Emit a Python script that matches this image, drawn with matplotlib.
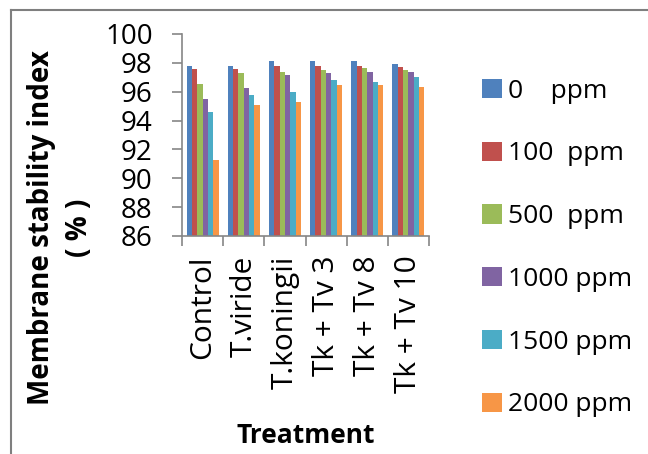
import numpy as np
import matplotlib
matplotlib.use("Agg")
import matplotlib.pyplot as plt
from matplotlib.lines import Line2D

plt.rcParams["font.family"] = ["Open Sans", "DejaVu Sans"]

TREATMENTS = ["Control", "T.viride", "T.koningii", "Tk + Tv 3", "Tk + Tv 8", "Tk + Tv 10"]
DOSES = ["0    ppm", "100  ppm", "500  ppm", "1000 ppm", "1500 ppm", "2000 ppm"]
MSI_0 = [97.75, 97.75, 98.1, 98.1, 98.1, 97.95]
MSI_100 = [97.6, 97.6, 97.75, 97.75, 97.75, 97.72]
MSI_500 = [96.5, 97.3, 97.4, 97.5, 97.65, 97.5]
MSI_1000 = [95.5, 96.25, 97.15, 97.3, 97.4, 97.38]
MSI_1500 = [94.6, 95.8, 96.0, 96.8, 96.7, 97.03]
MSI_2000 = [91.3, 95.1, 95.3, 96.45, 96.45, 96.35]
SERIES = [MSI_0, MSI_100, MSI_500, MSI_1000, MSI_1500, MSI_2000]
COLORS = ["#4F81BD", "#C0504D", "#9BBB59", "#8064A2", "#4BACC6", "#F79646"]

fig = plt.figure(figsize=(6.48, 4.54), dpi=100)
ax = fig.add_axes([182 / 648, 1 - 236 / 454, 247 / 648, 202 / 454])

x = np.arange(len(TREATMENTS))
w = 0.13
for i, (vals, col, lab) in enumerate(zip(SERIES, COLORS, DOSES)):
    ax.bar(x + (i - 2.5) * w, vals, width=w, color=col, label=lab)

ax.set_ylim(86, 100)
ax.set_xlim(-0.5, len(TREATMENTS) - 0.5)
ax.set_yticks(np.arange(86, 101, 2))
# group separators as major ticks, names as minor ticks
ax.set_xticks(np.arange(-0.5, len(TREATMENTS), 1.0))
ax.set_xticklabels([])
ax.set_xticks(x, minor=True)
ax.set_xticklabels(TREATMENTS, minor=True, rotation=90, fontsize=21.5)
ax.tick_params(axis="x", which="minor", length=0, pad=14)
ax.tick_params(axis="x", which="major", length=7, color="#868686", width=1.2)
ax.tick_params(axis="y", length=7, color="#868686", width=1.2, labelsize=20, pad=14)
for s in ["top", "right"]:
    ax.spines[s].set_visible(False)
for s in ["left", "bottom"]:
    ax.spines[s].set_color("#868686")
    ax.spines[s].set_linewidth(1.2)

ax.set_ylabel("Membrane stability index\n( % )", fontsize=20, fontweight="bold",
              linespacing=1.43)
ax.yaxis.set_label_coords(-(182 - 94) / 247, 0.04)
ax.set_xlabel("Treatment", fontsize=19, fontweight="bold")
ax.xaxis.set_label_coords(0.5, -(422 - 236) / 202)

ax.legend(loc="upper left", bbox_to_anchor=(458 / 648, 1 - 55 / 454),
          bbox_transform=fig.transFigure, frameon=False, fontsize=19,
          handlelength=0.75, handleheight=0.75, handletextpad=0.25, labelspacing=1.43)

# outer chart border (top and left edges only)
fig.add_artist(Line2D([11 / 648, 1], [1 - 10 / 454, 1 - 10 / 454],
                      transform=fig.transFigure, color="#7f7f7f", lw=1.5))
fig.add_artist(Line2D([11 / 648, 11 / 648], [0, 1 - 10 / 454],
                      transform=fig.transFigure, color="#7f7f7f", lw=1.5))

fig.savefig("out.png", dpi=100)
